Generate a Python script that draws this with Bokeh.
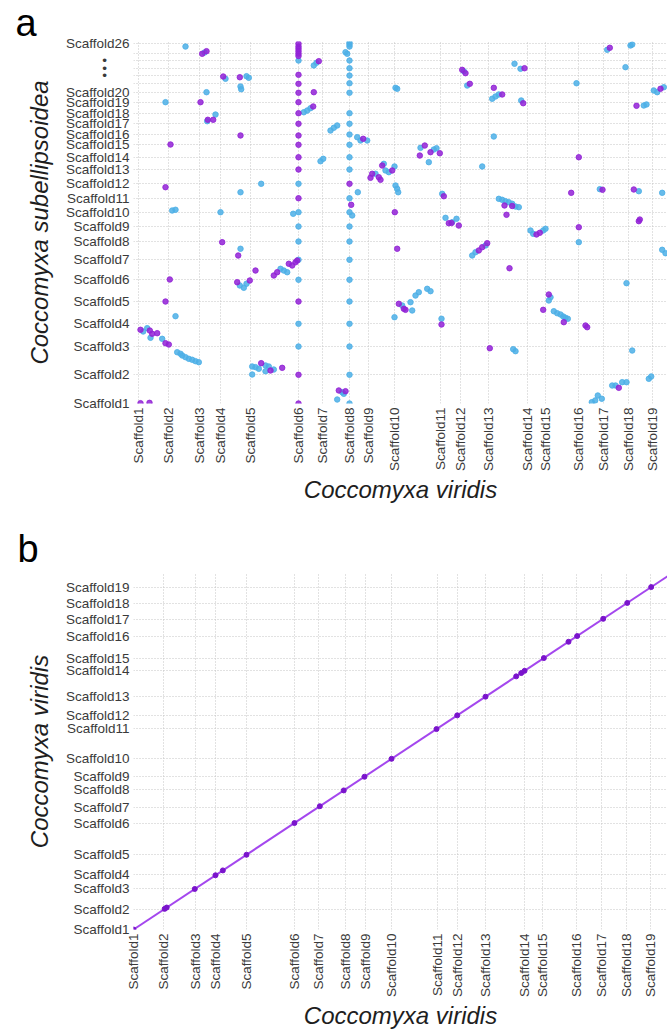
import math
from bokeh.plotting import figure
from bokeh.models import FixedTicker, Range1d, CustomJSTickFormatter
from bokeh.layouts import column
from bokeh.embed import file_html
from bokeh.resources import INLINE

# ---------------- data ----------------
# Coccomyxa viridis scaffold start positions (Mb)
cv_names = ["Scaffold%d" % i for i in range(1, 20)]
cv_starts = [0, 3.03, 6.13, 8.2, 11.2, 16.0, 18.4, 21.1, 23.03, 25.63, 30.2, 32.2,
             35.03, 38.87, 40.7, 44.03, 46.53, 49.03, 51.37]

# Coccomyxa subellipsoidea scaffold start positions (Mb); 21-25 shown as dots
DOT = "\u2022" + "\u00a0" * 6
cs_names = (["Scaffold%d" % i for i in range(1, 21)]
            + ["", DOT, DOT, DOT, "", "Scaffold26"])
cs_starts = [0, 3.88, 7.70, 10.77, 13.78, 16.72, 19.42, 21.89, 23.92, 25.85, 27.74, 29.69,
             31.62, 33.28, 34.96, 36.35, 37.80, 39.23, 40.72, 41.99, 43.28, 44.32, 45.31,
             46.35, 47.34, 48.61]

purple_x = [6.37, 6.8, 18.03, 8.47, 10.13, 17.53, 6.2, 17.47, 6.93, 7.47, 3.2, 10.2, 2.7,
            22.47, 32.37, 32.7, 33.13, 35.53, 36.37, 38.6, 38.47, 47.13, 52.2, 49.8, 28.63,
            28.13, 29.2, 30.13, 44.03, 24.37, 23.37, 23.2, 24.03, 24.2, 25.37, 25.63, 30.53,
            36.6, 37.37, 36.8, 43.27, 46.4, 49.53, 50.13, 8.37, 9.97, 3.13, 2.7, 0.2, 1.13,
            1.37, 1.87, 2.7, 3.03, 9.87, 11.13, 11.7, 13.53, 13.87, 15.03, 15.37, 15.7, 15.87,
            12.27, 13.2, 14.37, 0.2, 1.1, 20.03, 20.7, 25.87, 26.03, 26.53, 26.7, 30.3, 31.03,
            32.03, 31.3, 34.03, 34.37, 34.87, 35.13, 37.1, 39.8, 40.13, 40.47, 41.03, 42.53,
            44.03, 44.7, 44.87, 48.03, 50.03, 21.27]
purple_y = [47.26, 47.61, 46.26, 44.19, 44.09, 42.07, 40.72, 40.14, 38.34, 38.34, 35.0, 36.22,
            29.23, 35.77, 45.09, 44.64, 43.2, 42.66, 41.76, 45.31, 40.58, 48.07, 42.53, 40.23,
            34.86, 33.51, 33.96, 33.82, 33.28, 32.16, 31.04, 30.5, 30.58, 30.23, 31.49, 25.85,
            28.01, 26.76, 26.69, 25.5, 28.47, 28.88, 28.92, 24.86, 21.8, 20.0, 16.76, 13.78,
            9.96, 9.86, 9.42, 9.5, 8.15, 7.97, 16.39, 16.62, 17.97, 17.3, 17.74, 18.88, 18.65,
            19.09, 19.32, 5.45, 4.46, 4.82, 0.04, 0.09, 1.76, 1.66, 20.91, 13.47, 12.8, 12.66,
            10.68, 24.36, 24.05, 24.39, 20.68, 21.12, 21.66, 7.47, 18.28, 22.84, 23.07, 12.66,
            14.73, 10.99, 23.82, 10.54, 10.31, 2.12, 24.64, 26.85]

blue_x = [4.7, 6.6, 17.53, 17.8, 8.7, 10.8, 11.03, 10.2, 10.27, 6.8, 2.7, 16.53, 16.87, 17.2,
          7.7, 6.87, 19.2, 19.53, 19.87, 18.2, 18.47, 12.27, 10.2, 3.37, 3.7, 8.2, 15.47, 20.7,
          20.87, 25.7, 25.87, 21.87, 22.2, 22.87, 32.53, 32.87, 35.37, 35.7, 36.03, 37.6, 38.2,
          38.27, 43.8, 46.87, 49.2, 49.37, 48.7, 51.53, 51.87, 52.53, 50.53, 50.8, 28.2, 29.53,
          29.8, 29.03, 35.53, 34.37, 24.53, 23.7, 24.7, 25.03, 25.6, 25.7, 25.87, 25.97, 21.93,
          30.37, 36.03, 36.37, 36.7, 37.03, 37.37, 37.7, 38.03, 46.13, 50.03, 52.37, 30.7, 31.8,
          10.2, 3.7, 0.47, 0.87, 1.2, 2.37, 3.87, 4.2, 4.37, 4.7, 5.03, 5.37, 5.7, 6.03, 10.13,
          10.53, 10.8, 14.2, 14.53, 14.87, 11.37, 11.7, 12.03, 12.7, 13.03, 13.53, 11.37, 12.7,
          20.37, 19.87, 20.53, 25.6, 26.37, 27.2, 27.37, 27.7, 28.03, 28.87, 29.2, 30.3, 31.37,
          33.37, 33.7, 34.7, 37.47, 37.7, 39.2, 39.47, 40.47, 40.7, 41.2, 41.03, 41.53, 41.87,
          42.2, 42.47, 42.7, 42.93, 44.03, 45.33, 45.67, 45.93, 46.33, 47.37, 47.7, 48.37, 48.8,
          48.8, 49.37, 51.03, 51.27, 52.37, 52.7, 21.37]
blue_y = [48.24, 47.43, 45.68, 46.04, 43.88, 44.23, 44.01, 42.84, 42.47, 42.07, 40.72, 39.36,
          39.59, 39.91, 39.05, 38.15, 36.89, 37.26, 37.57, 32.74, 33.07, 29.69, 28.55, 26.08,
          26.18, 25.85, 25.64, 47.47, 47.26, 42.66, 42.53, 35.99, 35.54, 35.54, 44.91, 42.97,
          41.18, 41.49, 41.76, 45.91, 45.23, 40.95, 43.28, 47.8, 48.38, 48.51, 45.45, 42.3,
          42.07, 42.74, 40.27, 40.41, 34.55, 34.32, 34.5, 32.61, 36.08, 32.03, 32.39, 31.04,
          31.49, 31.26, 32.03, 29.46, 29.01, 28.55, 28.55, 28.34, 27.66, 27.53, 27.34, 27.2,
          26.99, 26.62, 26.53, 28.96, 28.69, 28.47, 25.09, 24.96, 20.91, 11.8, 9.73, 10.18,
          8.88, 8.74, 6.93, 6.72, 6.49, 6.26, 6.04, 5.91, 5.72, 5.58, 15.95, 15.64, 16.18, 18.2,
          17.97, 17.74, 5.0, 4.91, 4.69, 5.14, 5.0, 4.59, 3.92, 4.36, 1.53, 0.54, 1.31, 11.66,
          13.24, 13.69, 12.57, 14.59, 15.04, 15.5, 15.18, 11.45, 24.5, 20.0, 20.45, 21.35, 7.34,
          7.07, 23.38, 22.93, 23.38, 23.61, 14.36, 13.92, 12.47, 12.2, 12.03, 11.76, 11.58,
          11.45, 21.8, 0.18, 0.41, 1.08, 0.64, 2.43, 2.43, 2.88, 2.88, 16.26, 7.16, 3.34, 3.65,
          20.77, 20.31, 25.41]

# hits lying on the start of C. viridis Scaffold6 and Scaffold8
s6_purple_y = [48.61, 48.24, 47.93, 47.61, 47.26, 46.96, 44.42, 43.2, 41.99, 40.72, 39.23,
               37.8, 36.22, 34.96, 33.28, 31.62, 27.74, 13.78, 3.88, 0.0]
s6_blue_y = [46.35, 29.69, 25.85, 23.92, 21.89, 19.42, 16.72, 10.77, 7.7]
s8_purple_y = [29.69]
s8_blue_y = [48.78, 48.51, 48.24, 46.35, 45.31, 44.32, 43.28, 41.99, 39.23, 37.8, 36.35,
             34.96, 33.28, 31.62, 27.74, 25.85, 23.92, 21.89, 19.42, 16.72, 13.78, 10.77,
             7.7, 3.88, 0.0]

# self comparison (panel b)
self_line = [0, 53.5]
self_dots = [0.0, 3.1, 3.3, 6.09, 8.15, 8.88, 11.23, 16.0, 18.52, 20.9, 22.96, 25.65,
             30.12, 32.18, 34.99, 38.04, 38.54, 38.87, 40.79, 43.24, 44.1, 46.69, 49.08, 51.46]

# ---------------- style ----------------
PURPLE = "#9222D6"
BLUE = "#4CAFE6"
FONT = "Liberation Sans"
TICK_COLOR = "#3a3a3a"


def make_formatter(ticks, names):
    return CustomJSTickFormatter(args=dict(t=ticks, l=names), code="""
        let best = 0, bd = 1e9;
        for (let i = 0; i < t.length; i++) {
            const d = Math.abs(t[i] - tick);
            if (d < bd) { bd = d; best = i; }
        }
        return l[best];
    """)


def style(p, xt, xn, yt, yn, xlabel, ylabel, ystand, letter, loff, lstand):
    p.outline_line_color = None
    p.xaxis.ticker = FixedTicker(ticks=xt)
    p.yaxis.ticker = FixedTicker(ticks=yt)
    p.xaxis.formatter = make_formatter(xt, xn)
    p.yaxis.formatter = make_formatter(yt, yn)
    p.xaxis.major_label_orientation = math.pi / 2
    for ax in (p.xaxis[0], p.yaxis[0]):
        ax.axis_line_color = None
        ax.major_tick_line_color = None
        ax.minor_tick_line_color = None
        ax.major_tick_out = 0
        ax.major_tick_in = 0
        ax.major_label_text_font = FONT
        ax.major_label_text_font_size = "13.5px"
        ax.major_label_text_color = TICK_COLOR
        ax.major_label_standoff = 4
        ax.axis_label_text_font = FONT
        ax.axis_label_text_font_size = "24px"
        ax.axis_label_text_font_style = "italic"
        ax.axis_label_text_color = "#1e1e1e"
    p.xaxis.axis_label = xlabel
    p.yaxis.axis_label = ylabel
    p.xaxis.axis_label_standoff = 2
    p.yaxis.axis_label_standoff = ystand
    for g in (p.xgrid[0], p.ygrid[0]):
        g.grid_line_color = "#c4c4c4"
        g.grid_line_dash = "1 2"
        g.grid_line_width = 1
    p.title.text = letter
    p.title.align = "left"
    p.title.offset = loff
    p.title.standoff = lstand
    p.title.text_font = FONT
    p.title.text_font_size = "38px"
    p.title.text_font_style = "normal"
    p.title.text_color = "black"


# ---------------- panel a ----------------
pa = figure(width=667, height=510, output_backend="svg", toolbar_location=None,
            x_range=Range1d(-0.5, 52.9), y_range=Range1d(0, 48.92),
            min_border_left=133, min_border_right=0, min_border_top=41,
            min_border_bottom=107, background_fill_color="white",
            border_fill_color="white")
style(pa, cv_starts, cv_names, cs_starts, cs_names,
      "Coccomyxa viridis", "Coccomyxa subellipsoidea", 10, "a", -118, -5)

pa.scatter(blue_x, blue_y, size=5.5, color=BLUE, alpha=0.85)
pa.scatter([cv_starts[5]] * len(s6_blue_y), s6_blue_y, size=5.5, color=BLUE, alpha=0.85)
pa.scatter([cv_starts[7]] * len(s8_blue_y), s8_blue_y, size=5.5, color=BLUE, alpha=0.85)
pa.scatter(purple_x, purple_y, size=5.5, color=PURPLE, alpha=0.85)
pa.scatter([cv_starts[5]] * len(s6_purple_y), s6_purple_y, size=5.5, color=PURPLE, alpha=0.85)
pa.scatter([cv_starts[7]] * len(s8_purple_y), s8_purple_y, size=5.5, color=PURPLE, alpha=0.85)

# ---------------- panel b ----------------
pb = figure(width=667, height=522, output_backend="svg", toolbar_location=None,
            x_range=Range1d(0, 53.08), y_range=Range1d(0, 53.5),
            min_border_left=133, min_border_right=0, min_border_top=63,
            min_border_bottom=100, background_fill_color="white",
            border_fill_color="white")
style(pb, cv_starts, cv_names, cv_starts, cv_names,
      "Coccomyxa viridis", "Coccomyxa viridis", 10, "b", -116, 6.6)

pb.line(self_line, self_line, line_color="#A447EE", line_width=2)
pb.scatter(self_dots, self_dots, size=5, color="#7A14CC")

layout = column(pa, pb, spacing=0)
open("out.html", "w").write(file_html(layout, INLINE))
